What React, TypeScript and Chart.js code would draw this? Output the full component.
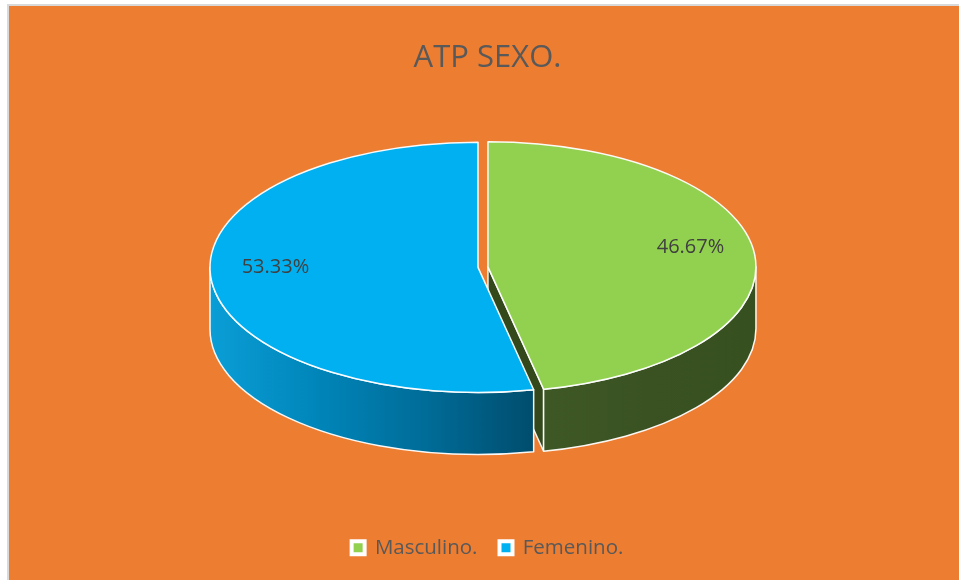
import React, { useEffect, useRef } from "react";
import { Chart, registerables } from "chart.js";

Chart.register(...registerables);

// ---- data ----
const categories = ["Masculino.", "Femenino."];
const percentages = [46.67, 53.33];
const sliceColors = ["#92D050", "#00B0F0"];
const chartTitle = "ATP SEXO.";

// ---- styles ----
const FONT = "'Open Sans', sans-serif";
const ORANGE = "#ED7D31";
const TEXT = "#595959";
const LABEL = "#404040";
const RX = 268; // horizontal radius of the tilted pie
const TILT = 0.467; // vertical / horizontal ratio
const DEPTH = 62; // thickness of the pie
const PIE_DX = -9.5;
const PIE_DY = 2;
const LABEL_RADIUS = 0.76;
const LABEL_LIFT = -10;
const EXPLODE = [10, 0];
const wallStops: string[][] = [
  ["#3e5825", "#3a5222", "#37501f"],
  ["#0a9ed6", "#0085b9", "#006c98", "#004d6d"],
];
const cutColors = ["#33491c", "#00445f"];

const W = 950;
const H = 574;

function visibleRanges(s: number, e: number) {
  const out: [number, number][] = [];
  for (let k = -2; k <= 2; k++) {
    const lo = Math.max(s, 2 * Math.PI * k);
    const hi = Math.min(e, 2 * Math.PI * k + Math.PI);
    if (hi > lo) out.push([lo, hi]);
  }
  return out;
}

const pie3d = {
  id: "pie3d",
  beforeDatasetsDraw(chart: any) {
    const meta = chart.getDatasetMeta(0);
    const ctx: CanvasRenderingContext2D = chart.ctx;
    const arcs = meta.data as any[];
    if (!arcs.length) return false;
    const ry = RX * TILT;
    const baseX = arcs[0].x + PIE_DX;
    const baseY = arcs[0].y - DEPTH / 2 + PIE_DY;
    const geo = arcs.map((a: any, i: number) => {
      const s = a.startAngle;
      const e = a.endAngle;
      const mid = (s + e) / 2;
      const off = (a.options && a.options.offset) || 0;
      return {
        i,
        s,
        e,
        mid,
        cx: baseX + Math.cos(mid) * off,
        cy: baseY + Math.sin(mid) * off * TILT,
      };
    });

    ctx.save();
    ctx.lineJoin = "round";
    ctx.strokeStyle = "rgba(255,255,255,0.95)";
    ctx.lineWidth = 1.5;

    // radial cut faces that face the viewer
    geo.forEach((g) => {
      const faces: number[] = [];
      if (-Math.cos(g.s) > 0.001) faces.push(g.s);
      if (Math.cos(g.e) > 0.001) faces.push(g.e);
      faces.forEach((t) => {
        const px = g.cx + RX * Math.cos(t);
        const py = g.cy + ry * Math.sin(t);
        ctx.beginPath();
        ctx.moveTo(g.cx, g.cy);
        ctx.lineTo(px, py);
        ctx.lineTo(px, py + DEPTH);
        ctx.lineTo(g.cx, g.cy + DEPTH);
        ctx.closePath();
        ctx.fillStyle = cutColors[g.i];
        ctx.fill();
        ctx.stroke();
      });
    });

    // outer walls
    geo.forEach((g) => {
      visibleRanges(g.s, g.e).forEach(([a, b]) => {
        const xa = g.cx + RX * Math.cos(a);
        const xb = g.cx + RX * Math.cos(b);
        const grad = ctx.createLinearGradient(Math.min(xa, xb), 0, Math.max(xa, xb), 0);
        const stops = wallStops[g.i];
        stops.forEach((c, k) => grad.addColorStop(k / (stops.length - 1), c));
        ctx.beginPath();
        ctx.ellipse(g.cx, g.cy, RX, ry, 0, a, b, false);
        ctx.lineTo(g.cx + RX * Math.cos(b), g.cy + ry * Math.sin(b) + DEPTH);
        ctx.ellipse(g.cx, g.cy + DEPTH, RX, ry, 0, b, a, true);
        ctx.closePath();
        ctx.fillStyle = grad;
        ctx.fill();
        ctx.stroke();
      });
    });

    // top faces
    geo.forEach((g) => {
      ctx.beginPath();
      ctx.moveTo(g.cx, g.cy);
      ctx.ellipse(g.cx, g.cy, RX, ry, 0, g.s, g.e, false);
      ctx.closePath();
      ctx.fillStyle = sliceColors[g.i];
      ctx.fill();
      ctx.stroke();
    });

    // percentage labels
    const total = percentages.reduce((p, v) => p + v, 0);
    ctx.fillStyle = LABEL;
    ctx.font = `20px ${FONT}`;
    ctx.textAlign = "center";
    ctx.textBaseline = "middle";
    geo.forEach((g) => {
      const v = (percentages[g.i] / total) * 100;
      const x = g.cx + Math.cos(g.mid) * RX * LABEL_RADIUS;
      const y = g.cy + Math.sin(g.mid) * ry * LABEL_RADIUS + LABEL_LIFT;
      ctx.fillText(v.toFixed(2) + "%", x, y);
    });
    ctx.restore();
    return false;
  },
};

export default function App() {
  const ref = useRef<HTMLCanvasElement | null>(null);
  useEffect(() => {
    if (!ref.current) return;
    const chart = new Chart(ref.current, {
      type: "pie",
      data: {
        labels: categories,
        datasets: [
          {
            data: percentages,
            backgroundColor: sliceColors,
            offset: EXPLODE,
            borderWidth: 0,
          },
        ],
      },
      options: {
        animation: false,
        responsive: false,
        layout: { padding: { left: 7, right: 0, top: 0, bottom: 12 } },
        plugins: {
          title: {
            display: true,
            text: chartTitle,
            color: TEXT,
            font: { family: FONT, size: 31, weight: "normal" },
            padding: { top: 34, bottom: 0 },
          },
          legend: {
            position: "bottom",
            labels: {
              color: TEXT,
              font: { family: FONT, size: 20.5 },
              boxWidth: 13,
              boxHeight: 13,
              padding: 22,
              generateLabels: () =>
                categories.map((t, i) => ({
                  text: t,
                  fillStyle: sliceColors[i],
                  strokeStyle: "#ffffff",
                  lineWidth: 4,
                  hidden: false,
                  index: i,
                  fontColor: TEXT,
                })),
            },
          },
          tooltip: { enabled: false },
        },
      },
      plugins: [pie3d],
    } as any);
    return () => chart.destroy();
  }, []);

  return (
    <div
      style={{
        position: "fixed",
        left: 0,
        top: 0,
        width: 959,
        height: 580,
        background: "#ffffff",
        overflow: "hidden",
      }}
    >
      <div
        style={{
          position: "absolute",
          left: 7,
          top: 4,
          width: W,
          height: H,
          borderTop: "2px solid #d9d9d9",
          borderLeft: "2px solid #d9d9d9",
          background: ORANGE,
        }}
      >
        <canvas ref={ref} width={W} height={H} style={{ display: "block" }} />
      </div>
    </div>
  );
}
